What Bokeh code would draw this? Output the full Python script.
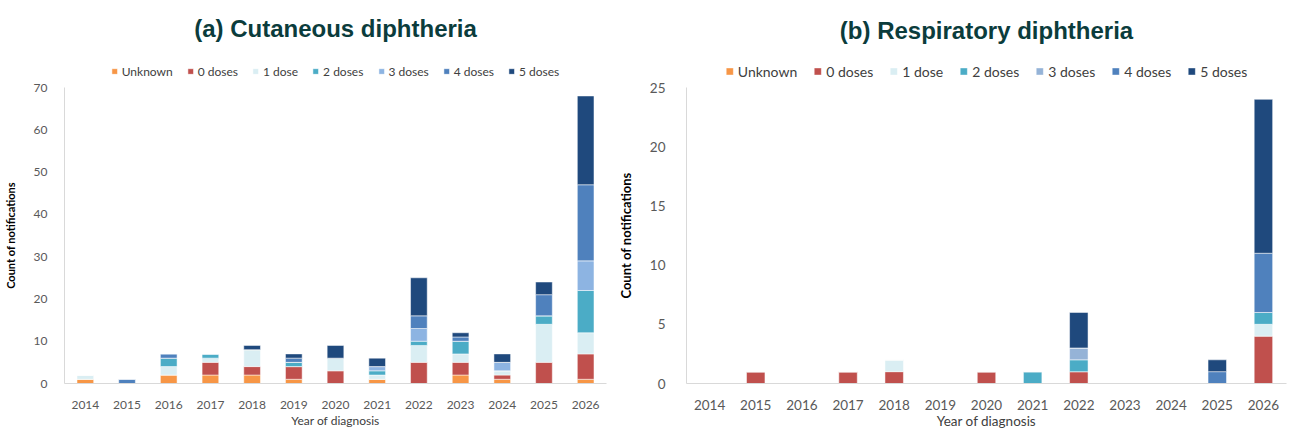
from bokeh.plotting import figure
from bokeh.models import Legend, LegendItem, Title, FixedTicker, Range1d, ColumnDataSource
from bokeh.layouts import row
from bokeh.embed import file_html
from bokeh.resources import INLINE

years = ["2014", "2015", "2016", "2017", "2018", "2019", "2020",
         "2021", "2022", "2023", "2024", "2025", "2026"]
series = ["Unknown", "0 doses", "1 dose", "2 doses", "3 doses", "4 doses", "5 doses"]
colors_a = ["#F79646", "#C0504D", "#DAEEF3", "#4BACC6", "#8DB4E2", "#4F81BD", "#1F497D"]
colors_b = ["#F79646", "#C0504D", "#DAEEF3", "#4BACC6", "#95B3D7", "#4F81BD", "#1F497D"]

# (a) Cutaneous diphtheria
cut_unknown = [1, 0, 2, 2, 2, 1, 0, 1, 0, 2, 1, 0, 1]
cut_d0 = [0, 0, 0, 3, 2, 3, 3, 0, 5, 3, 1, 5, 6]
cut_d1 = [1, 0, 2, 1, 4, 0, 3, 1, 4, 2, 1, 9, 5]
cut_d2 = [0, 0, 2, 1, 0, 1, 0, 1, 1, 3, 0, 2, 10]
cut_d3 = [0, 0, 0, 0, 0, 0, 0, 1, 3, 0, 2, 0, 7]
cut_d4 = [0, 1, 1, 0, 0, 1, 0, 0, 3, 1, 0, 5, 18]
cut_d5 = [0, 0, 0, 0, 1, 1, 3, 2, 9, 1, 2, 3, 21]

# (b) Respiratory diphtheria
resp_unknown = [0, 0, 0, 0, 0, 0, 0, 0, 0, 0, 0, 0, 0]
resp_d0 = [0, 1, 0, 1, 1, 0, 1, 0, 1, 0, 0, 0, 4]
resp_d1 = [0, 0, 0, 0, 1, 0, 0, 0, 0, 0, 0, 0, 1]
resp_d2 = [0, 0, 0, 0, 0, 0, 0, 1, 1, 0, 0, 0, 1]
resp_d3 = [0, 0, 0, 0, 0, 0, 0, 0, 1, 0, 0, 0, 0]
resp_d4 = [0, 0, 0, 0, 0, 0, 0, 0, 0, 0, 0, 1, 5]
resp_d5 = [0, 0, 0, 0, 0, 0, 0, 0, 3, 0, 0, 1, 13]

TITLE_COLOR = "#0b3c3c"
FONT = "Lato"


def make_panel(title, values, colors, ymax, ystep, width, height, borders, fs, title_offset, lg):
    src = ColumnDataSource(dict(year=years, **{s: v for s, v in zip(series, values)}))
    p = figure(x_range=years, width=width, height=height, output_backend="svg",
               toolbar_location=None, min_border_left=borders[0], min_border_right=borders[1],
               min_border_top=borders[2], min_border_bottom=borders[3])
    p.y_range = Range1d(0, ymax)
    p.x_range.range_padding = 0
    rs = p.vbar_stack(series, x="year", width=0.4, color=colors, source=src,
                      line_color="white", line_width=0.5)
    p.xgrid.visible = False
    p.ygrid.visible = False
    p.outline_line_color = None

    for ax in (p.xaxis[0], p.yaxis[0]):
        ax.axis_line_color = "#D9D9D9"
        ax.major_tick_line_color = None
        ax.minor_tick_line_color = None
        ax.major_label_text_font = FONT
        ax.major_label_text_font_size = fs["tick"]
        ax.major_label_text_color = "#595959"
        ax.axis_label_text_font = FONT
    p.yaxis[0].ticker = FixedTicker(ticks=list(range(0, ymax + 1, ystep)))
    p.yaxis[0].axis_label = "Count of notifications"
    p.yaxis[0].axis_label_text_font_style = "bold"
    p.yaxis[0].axis_label_text_font_size = fs["ytitle"]
    p.yaxis[0].axis_label_text_color = "#000000"
    p.yaxis[0].major_label_standoff = fs["ystand"]
    p.yaxis[0].axis_label_standoff = fs["ylstand"]
    p.xaxis[0].axis_label = "Year of diagnosis"
    p.xaxis[0].axis_label_text_font_style = "normal"
    p.xaxis[0].axis_label_text_font_size = fs["xtitle"]
    p.xaxis[0].axis_label_text_color = "#404040"
    p.xaxis[0].major_label_standoff = fs["xstand"]
    p.xaxis[0].axis_label_standoff = fs["xlstand"]

    items = [LegendItem(label=s, renderers=[r]) for s, r in zip(series, rs)]
    legend = Legend(items=items, orientation="horizontal", location="center",
                    glyph_width=lg["glyph"], glyph_height=lg["glyph"],
                    label_text_font=FONT, label_text_font_size=fs["legend"],
                    label_text_color="#404040", label_standoff=4,
                    spacing=lg["spacing"], padding=0, margin=lg["margin"],
                    border_line_color=None, background_fill_alpha=0,
                    label_height=lg["lh"])
    p.add_layout(legend, "above")
    p.title = Title(text=title, text_font="Liberation Sans", text_font_size="24px",
                    text_font_style="bold", text_color=TITLE_COLOR, align="center",
                    offset=title_offset)
    return p


pa = make_panel("(a) Cutaneous diphtheria",
                [cut_unknown, cut_d0, cut_d1, cut_d2, cut_d3, cut_d4, cut_d5],
                colors_a, 70, 10, 614, 435, (64, 8, 85, 52),
                dict(tick="12px", ytitle="11px", xtitle="12px", legend="12px",
                     ystand=11, ylstand=14, xstand=11, xlstand=1),
                -55, dict(glyph=7, spacing=14, margin=13, lh=14))

pb = make_panel("(b) Respiratory diphtheria",
                [resp_unknown, resp_d0, resp_d1, resp_d2, resp_d3, resp_d4, resp_d5],
                colors_b, 25, 5, 675, 435, (68, 3, 87, 43),
                dict(tick="13.5px", ytitle="13px", xtitle="13.5px", legend="14px",
                     ystand=15, ylstand=13, xstand=10, xlstand=0),
                -104, dict(glyph=9, spacing=16, margin=11, lh=16))

layout = row(pa, pb)

repaint_js = r"""
<script>
function bkRepaint(){
  try {
    var docs = (window.Bokeh && Bokeh.documents) ? Bokeh.documents : [];
    docs.forEach(function(doc){
      doc.all_models.forEach(function(m){
        if ('border_fill_alpha' in m && 'min_border_top' in m) {
          m.border_fill_alpha = 0.999;
          setTimeout(function(){ m.border_fill_alpha = 1.0; }, 40);
        }
      });
    });
  } catch (e) {}
  try { window.dispatchEvent(new Event('resize')); } catch (e) {}
}
setTimeout(bkRepaint, 120); setTimeout(bkRepaint, 400); setTimeout(bkRepaint, 1200);
</script>
"""
html = file_html(layout, INLINE)
html = html.replace("</body>", repaint_js + "</body>")
open("out.html", "w").write(html)
